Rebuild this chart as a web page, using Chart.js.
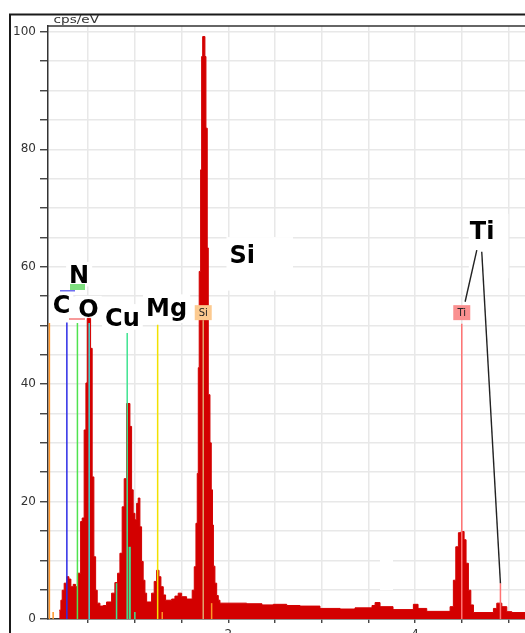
<!DOCTYPE html>
<html>
<head>
<meta charset="utf-8">
<script src="https://cdn.jsdelivr.net/npm/chart.js@4"></script>
<style>
  html, body { margin: 0; padding: 0; background: #fff; overflow: hidden; }
  #wrap { position: relative; width: 525px; height: 633px; overflow: hidden; }
  #spec { position: absolute; left: 0; top: 0; }
</style>
</head>
<body>
<div id="wrap"><canvas id="spec" width="600" height="680"></canvas></div>
<script>
// EDS spectrum: channel start energy (keV) and intensity (cps/eV)
const energyKeV = [
  0.190, 0.208, 0.222, 0.243, 0.272, 0.294, 0.315, 0.340, 0.365, 0.385,
  0.419, 0.436, 0.457, 0.476, 0.490, 0.526, 0.543, 0.561, 0.580, 0.597,
  0.626, 0.661, 0.697, 0.751, 0.786, 0.815, 0.840, 0.864, 0.886, 0.911,
  0.947, 0.965, 0.982, 1.001, 1.019, 1.036, 1.054, 1.072, 1.089, 1.108,
  1.126, 1.179, 1.207, 1.233, 1.258, 1.279, 1.304, 1.329, 1.394, 1.429,
  1.464, 1.501, 1.554, 1.614, 1.636, 1.654, 1.668, 1.679, 1.689, 1.704,
  1.715, 1.726, 1.750, 1.761, 1.775, 1.786, 1.804, 1.818, 1.831, 1.841,
  1.857, 1.876, 1.893, 1.911, 2.197, 2.361, 2.482, 2.626, 2.768, 2.982,
  3.197, 3.357, 3.539, 3.572, 3.625, 3.764, 3.982, 4.032, 4.125, 4.375,
  4.410, 4.436, 4.464, 4.493, 4.525, 4.546, 4.571, 4.597, 4.625, 4.839,
  4.875, 4.929, 4.982, 5.036, 6.000
];
const intensity = [
  1.5, 3.2, 4.9, 6.1, 7.2, 6.8, 5.5, 5.9, 5.5, 7.8,
  16.6, 17.2, 32.2, 40.2, 51.2, 46.1, 24.2, 10.6, 4.9, 2.7,
  2.2, 2.3, 2.9, 4.4, 6.2, 7.8, 11.2, 19.1, 23.9, 36.7,
  32.8, 22.0, 18.0, 16.9, 19.7, 20.6, 15.7, 9.8, 6.6, 4.4,
  2.9, 4.4, 6.4, 8.3, 7.2, 5.5, 4.1, 3.2, 3.4, 3.9,
  4.4, 3.8, 3.4, 4.9, 8.9, 16.3, 24.8, 42.8, 59.2, 76.5,
  95.8, 99.2, 95.8, 83.6, 63.2, 38.2, 30.0, 22.0, 16.0, 9.0,
  6.1, 4.0, 3.2, 2.7, 2.6, 2.4, 2.5, 2.3, 2.2, 1.8,
  1.7, 1.9, 2.3, 2.8, 2.1, 1.6, 2.5, 1.8, 1.3, 2.1,
  6.6, 12.3, 14.7, 14.9, 13.5, 9.5, 4.9, 2.4, 1.1, 1.8,
  2.7, 2.1, 1.25, 1.1, 1.1
];

// element line markers: energy (keV) and marker height (cps/eV)
const markerKeV    = [0.085, 0.125, 0.272, 0.385, 0.511, 0.804, 0.918, 0.945, 1.000, 1.244, 1.293, 1.732, 1.822, 4.500, 4.914];
const markerHeight = [50.4, 1.2, 50.5, 50.4, 50.4, 6.1, 48.7, 12.3, 1.2, 50.1, 1.2, 50.9, 2.7, 50.3, 6.1];
const markerColor  = ['#ff9428', '#ff9428', '#2b2be6', '#4fe34f', '#3fd6d6', '#3fe391', '#3fe391', '#3fe391', '#3fe391',
                      '#f2e200', '#ff9428', '#e2a46e', '#ff9428', '#ff7373', '#ff7373'];

// axis ticks
const yTickValues = [0, 5, 10, 15, 20, 25, 30, 35, 40, 45, 50, 55, 60, 65, 70, 75, 80, 85, 90, 95, 100];
const yTickLabels = [0, 20, 40, 60, 80, 100];
const xTickValues = [0.5, 1, 1.5, 2, 2.5, 3, 3.5, 4, 4.5, 5, 5.5];
const xTickLabels = [2, 4];

// large element captions: text, left edge (keV), baseline (cps/eV)
const captionText = ['C', 'N', 'O', 'Cu', 'Mg', 'Si', 'Ti'];
const captionKeV  = [0.120, 0.296, 0.395, 0.681, 1.120, 2.013, 4.586];
const captionVal  = [52.05, 57.16, 51.37, 49.97, 51.63, 60.70, 64.67];
// white backing of each caption: [top, right, bottom, left] in px
const captionPad  = [[4, 3, 4, 3], [4, 3, 3, 3], [4, 3, 4, 3], [4, 3, 4, 3], [4, 3, 7, 3], [8, 38, 28, 3], [8, 14, 39, 1]];

// small element tags sitting on the marker lines
const tagText = ['Si', 'Ti'];
const tagKeV  = [1.732, 4.500];
const tagFill = ['#fcca90', '#fa9090'];
const tagBase = 50.9;

// leader lines from the Ti caption to its two markers
const leaderA = [{ x: 4.661, y: 62.83 }, { x: 4.536, y: 54.03 }];
const leaderB = [{ x: 4.714, y: 62.54 }, { x: 4.914, y: 6.08 }];

const spectrum = energyKeV.map((e, i) => ({ x: e, y: intensity[i] }));

const markerSets = markerKeV.map((e, i) => ({
  data: [{ x: e, y: 0 }, { x: e, y: markerHeight[i] }],
  borderColor: markerColor[i],
  borderWidth: i === 7 ? 2.2 : 1.5,
  pointRadius: 0,
  fill: false,
  order: 2
}));

const CAP_FONT = 'bold 24px "DejaVu Sans"';
const CAP_HEIGHT = 17.5;

const decor = {
  id: 'decor',
  beforeDraw(chart) {
    const ctx = chart.ctx;
    ctx.save();
    ctx.fillStyle = '#fff';
    ctx.fillRect(0, 0, chart.width, chart.height);
    ctx.restore();
  },
  beforeDatasetsDraw(chart) {
    const ctx = chart.ctx, xs = chart.scales.x, ys = chart.scales.y;
    ctx.save();
    ctx.font = CAP_FONT;
    ctx.fillStyle = '#fff';
    captionText.forEach((t, i) => {
      const x = xs.getPixelForValue(captionKeV[i]);
      const b = ys.getPixelForValue(captionVal[i]);
      const w = ctx.measureText(t).width;
      const p = captionPad[i];
      ctx.fillRect(x - p[3], b - CAP_HEIGHT - p[0], w + p[3] + p[1], CAP_HEIGHT + p[0] + p[2]);
    });
    // blank patch in the background region
    ctx.fillRect(380, 558, 13, 32);
    ctx.restore();
  },
  afterDatasetsDraw(chart) {
    const ctx = chart.ctx, xs = chart.scales.x, ys = chart.scales.y;
    ctx.save();
    // edges of the C / N / O tags peeking out from under the captions
    ctx.fillStyle = '#6f6ff0';
    ctx.fillRect(60, 290, 15, 1.5);
    ctx.fillStyle = '#7fe07f';
    ctx.fillRect(70, 284, 15, 6);
    ctx.fillStyle = '#f79a9a';
    ctx.fillRect(69, 318, 16, 2);

    // Si / Ti tags
    ctx.font = '10px "DejaVu Sans"';
    ctx.textAlign = 'center';
    ctx.textBaseline = 'middle';
    tagText.forEach((t, i) => {
      const cx = xs.getPixelForValue(tagKeV[i]);
      const bot = ys.getPixelForValue(tagBase);
      ctx.fillStyle = tagFill[i];
      ctx.fillRect(cx - 8.5, bot - 15, 17, 15);
      ctx.fillStyle = '#222';
      ctx.fillText(t, cx, bot - 7);
    });

    // captions
    ctx.font = CAP_FONT;
    ctx.textAlign = 'left';
    ctx.textBaseline = 'alphabetic';
    ctx.fillStyle = '#000';
    captionText.forEach((t, i) => {
      ctx.fillText(t, xs.getPixelForValue(captionKeV[i]), ys.getPixelForValue(captionVal[i]));
    });
    ctx.restore();
  },
  afterDraw(chart) {
    const ctx = chart.ctx, a = chart.chartArea;
    ctx.save();
    ctx.strokeStyle = '#1a1a1a';
    ctx.lineWidth = 2;
    ctx.beginPath();
    ctx.moveTo(10, chart.height);
    ctx.lineTo(10, 14.5);
    ctx.lineTo(chart.width, 14.5);
    ctx.stroke();
    ctx.strokeStyle = '#333';
    ctx.lineWidth = 1.3;
    ctx.beginPath();
    ctx.moveTo(a.left - 1, a.top);
    ctx.lineTo(chart.width, a.top);
    ctx.stroke();
    // unit caption
    ctx.font = '10px "DejaVu Sans"';
    ctx.fillStyle = '#333';
    const w = ctx.measureText('cps/eV').width;
    ctx.translate(53.5, 23.3);
    ctx.scale(45.5 / w, 1);
    ctx.fillText('cps/eV', 0, 0);
    ctx.restore();
  }
};

new Chart(document.getElementById('spec'), {
  type: 'line',
  data: {
    datasets: [
      {
        data: leaderA, borderColor: '#222', borderWidth: 1.4, pointRadius: 0, fill: false, order: 1
      },
      {
        data: leaderB, borderColor: '#222', borderWidth: 1.4, pointRadius: 0, fill: false, order: 1
      },
      ...markerSets,
      {
        data: spectrum,
        stepped: true,
        fill: 'origin',
        backgroundColor: '#d30000',
        borderColor: '#d30000',
        borderWidth: 1,
        pointRadius: 0,
        order: 3
      }
    ]
  },
  options: {
    responsive: false,
    animation: false,
    devicePixelRatio: 1,
    events: [],
    layout: { padding: { top: 26, left: 0, right: 0, bottom: 0 } },
    plugins: { legend: { display: false }, tooltip: { enabled: false } },
    scales: {
      x: {
        type: 'linear',
        min: 0.07,
        max: 5.98,
        afterBuildTicks: (axis) => { axis.ticks = xTickValues.map(v => ({ value: v })); },
        afterFit: (axis) => { axis.height = 61; },
        grid: { color: '#e8e8e8', lineWidth: 1.5, tickLength: 4, tickColor: '#333', tickWidth: 1.3 },
        border: { display: true, color: '#333', width: 1.5 },
        ticks: {
          autoSkip: false, maxRotation: 0, padding: 5, color: '#333',
          font: { family: 'DejaVu Sans', size: 12 },
          callback: (v) => xTickLabels.includes(v) ? String(v) : ''
        }
      },
      y: {
        min: 0,
        max: 101,
        afterBuildTicks: (axis) => { axis.ticks = yTickValues.map(v => ({ value: v })); },
        afterFit: (axis) => { axis.width = 48; },
        grid: { color: '#e8e8e8', lineWidth: 1.5, tickLength: 8, tickColor: '#333', tickWidth: 1.3 },
        border: { display: true, color: '#333', width: 1.5 },
        ticks: {
          autoSkip: false, padding: 4, color: '#333',
          font: { family: 'DejaVu Sans', size: 12 },
          callback: (v) => yTickLabels.includes(v) ? String(v) : ''
        }
      }
    }
  },
  plugins: [decor]
});
</script>
</body>
</html>
